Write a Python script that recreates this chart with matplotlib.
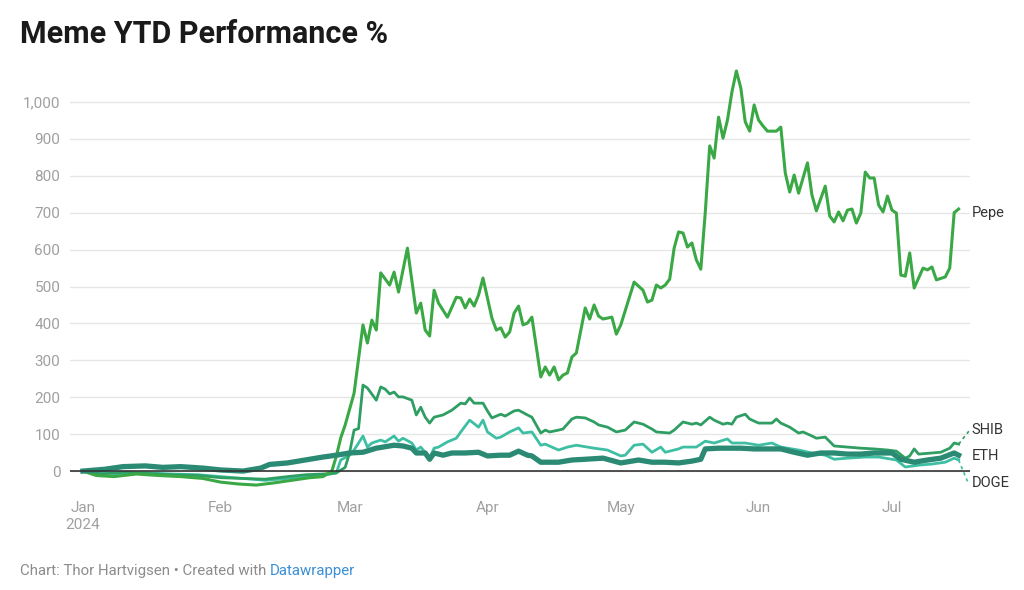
import numpy as np
import pandas as pd
import matplotlib
matplotlib.use("Agg")
import matplotlib.pyplot as plt
import matplotlib.dates as mdates

plt.rcParams['font.family'] = ['Roboto', 'DejaVu Sans']

#
# data: day offsets from 2024-01-01 and YTD performance in %
# ----------------------------------------------------------
#
pepe_days = [0, 3, 7, 12, 17, 22, 27, 31, 35, 39, 43, 47, 51, 54, 56, 57, 58, 59,
             61, 63, 64, 65, 66, 67, 69, 70, 71, 73, 75, 76, 77, 78, 79, 80, 82,
             84, 85, 86, 87, 88, 89, 90, 92, 93, 94, 95, 96, 97, 98, 99, 100, 101,
             103, 104, 105, 106, 107, 108, 109, 110, 111, 113, 114, 115, 116, 117,
             119, 120, 121, 124, 126, 127, 128, 129, 130, 131, 132, 133, 134, 135,
             136, 137, 138, 139, 140, 141, 142, 143, 144, 145, 146, 147, 148, 149,
             150, 151, 152, 153, 154, 155, 156, 157, 158, 159, 160, 161, 163, 164,
             165, 167, 168, 169, 170, 171, 172, 173, 174, 175, 176, 177, 178, 179,
             180, 181, 182, 183, 184, 185, 186, 187, 189, 190, 191, 192, 194, 195,
             196, 197]
pepe_vals = [0, -12, -15, -8, -12, -15, -20, -30, -35, -38, -32, -25, -18, -15, 0, 40, 90, 125,
             211, 396, 347, 409, 382, 537, 504, 539, 485, 604, 428, 455, 382, 366, 490, 455, 417,
             471, 469, 442, 466, 447, 477, 523, 415, 382, 388, 363, 377, 428, 447, 396, 401, 417,
             255, 282, 260, 282, 247, 260, 266, 309, 320, 442, 412, 450, 420, 412,
             417, 371, 396, 512, 490, 458, 463, 504, 496, 504, 520, 604, 648, 645,
             607, 618, 572, 547, 700, 881, 848, 959, 902, 951, 1027, 1084, 1038, 946,
             921, 992, 951, 935, 921, 921, 921, 932, 808, 756, 802, 753, 835, 748,
             705, 772, 691, 675, 702, 678, 707, 710, 672, 699, 810, 794, 794, 721,
             702, 745, 707, 699, 531, 528, 591, 496, 550, 545, 553, 518, 526, 550,
             700, 710]

shib_days = [0, 4, 9, 14, 20, 26, 31, 36, 41, 46, 50, 54, 57, 59, 60, 61, 62, 63,
             64, 66, 67, 68, 69, 70, 71, 72, 74, 75, 76, 77, 78, 79, 81, 83, 85, 86,
             87, 88, 90, 91, 92, 94, 95, 97, 98, 100, 101, 103, 104, 105, 107, 108,
             110, 111, 113, 115, 116, 118, 120, 122, 124, 126, 128, 129, 132, 133,
             135, 137, 138, 139, 141, 142, 144, 145, 146, 147, 149, 150, 152, 154,
             155, 156, 157, 159, 160, 161, 162, 164, 165, 167, 169, 172, 175, 178,
             181, 183, 185, 186, 187, 188, 191, 193, 195, 196, 197]
shib_vals = [0, -8, -3, -6, -10, -12, -18, -20, -22, -15, -10, -8, -5, 10, 50, 111, 115, 233,
             225, 192, 228, 222, 209, 214, 201, 201, 192, 152, 173, 146, 130, 146, 152, 165, 184, 182,
             198, 184, 184, 163, 144, 154, 149, 163, 165, 152, 146, 103, 111, 106, 111, 114,
             141, 146, 144, 133, 125, 119, 106, 111, 133, 127, 114, 106, 103, 111,
             133, 127, 130, 125, 146, 138, 127, 130, 127, 146, 154, 141, 130, 130,
             130, 141, 130, 119, 111, 103, 106, 95, 89, 92, 68, 65, 62, 60,
             57, 54, 35, 41, 60, 46, 49, 51, 62, 76, 73]

doge_days = [0, 4, 9, 14, 20, 26, 31, 36, 41, 46, 50, 54, 57, 58, 60, 61, 63, 64,
             65, 67, 68, 70, 71, 72, 74, 75, 76, 78, 79, 80, 82, 84, 85, 87, 89, 90,
             91, 93, 94, 96, 98, 99, 101, 103, 104, 107, 109, 111, 115, 118, 121, 122,
             124, 126, 128, 130, 131, 134, 135, 138, 140, 142, 145, 146, 149, 152,
             155, 157, 161, 164, 167, 169, 172, 176, 179, 183, 185, 188, 191, 194,
             196, 197]
doge_vals = [0, -5, -8, -5, -8, -10, -15, -20, -25, -20, -15, -12, -5, 30, 43, 57, 95, 65,
             76, 84, 79, 95, 81, 89, 76, 57, 65, 35, 62, 65, 79, 89, 106, 138, 119, 138,
             106, 89, 92, 106, 117, 103, 106, 70, 73, 57, 65, 70, 62, 57, 41, 43,
             70, 73, 51, 65, 51, 60, 65, 65, 81, 76, 87, 76, 76, 70,
             76, 65, 57, 49, 43, 32, 35, 38, 38, 30, 11, 16, 19, 24,
             35, 30]

eth_days = [0, 5, 9, 14, 18, 22, 27, 31, 36, 40, 42, 46, 50, 54, 57, 60, 63, 66,
            70, 72, 74, 75, 77, 78, 79, 81, 83, 86, 89, 91, 94, 96, 98, 100, 101,
            103, 107, 110, 113, 117, 121, 125, 128, 131, 134, 137, 139, 140, 143,
            146, 148, 151, 154, 157, 160, 163, 166, 169, 172, 175, 178, 182, 184,
            187, 190, 193, 196, 197]
eth_vals = [0, 5, 12, 14, 10, 12, 8, 3, 0, 8, 18, 22, 30, 38, 43, 49, 51, 62,
            70, 68, 62, 49, 49, 32, 49, 43, 49, 49, 51, 41, 43, 43, 54, 43, 41,
            24, 24, 30, 32, 35, 22, 30, 24, 24, 22, 27, 32, 60, 62,
            62, 62, 60, 60, 60, 51, 43, 49, 49, 46, 46, 49, 49, 32,
            24, 30, 35, 49, 43]

month_ticks = ["2024-01-01", "2024-02-01", "2024-03-01", "2024-04-01",
               "2024-05-01", "2024-06-01", "2024-07-01"]
month_labels = ["Jan\n2024", "Feb", "Mar", "Apr", "May", "Jun", "Jul"]
y_ticks = [0, 100, 200, 300, 400, 500, 600, 700, 800, 900, 1000]

start = pd.Timestamp("2024-01-01")
def to_dates(days):
    return start + pd.to_timedelta(days, unit="D")

#
# graphics
# --------
#
fig = plt.figure(figsize=(10.24, 5.90), dpi=100)
ax = fig.add_axes([0.0684, 0.1703, 0.8786, 0.7194])

c_pepe = "#3aa845"
c_shib = "#2f9e63"
c_doge = "#3ebfa3"
c_eth = "#2a8a73"

ax.plot(to_dates(doge_days), doge_vals, color=c_doge, lw=2.0, zorder=3)
ax.plot(to_dates(shib_days), shib_vals, color=c_shib, lw=2.0, zorder=4)
ax.plot(to_dates(pepe_days), pepe_vals, color=c_pepe, lw=2.2, zorder=5)
ax.plot(to_dates(eth_days), eth_vals, color=c_eth, lw=3.8, zorder=6)

ax.axhline(0, color="#333333", lw=1.2, zorder=7)

ax.set_ylim(-50, 1100)
ax.set_xlim(start - pd.Timedelta(days=2.9), start + pd.Timedelta(days=199.5))
ax.set_yticks(y_ticks)
ax.set_yticklabels([f"{v:,}" for v in y_ticks])
ax.set_xticks(pd.to_datetime(month_ticks))
ax.set_xticklabels(month_labels, ha="center", va="top", linespacing=1.3)

ax.grid(axis="y", color="#e6e6e6", lw=1.0, zorder=0)
ax.grid(axis="x", visible=False)
for s in ax.spines.values():
    s.set_visible(False)
ax.tick_params(axis="both", length=0, labelsize=11, colors="#a0a0a0")
ax.tick_params(axis="y", pad=7)
ax.tick_params(axis="x", pad=8)

# end labels
lab_kw = dict(fontsize=10.5, color="#333333", va="center", ha="left",
              transform=ax.get_yaxis_transform(), clip_on=False)
ax.text(1.002, 700, "Pepe", **lab_kw)
ax.text(1.002, 111, "SHIB", **lab_kw)
ax.text(1.002, 41, "ETH", **lab_kw)
ax.text(1.002, -33, "DOGE", **lab_kw)
ax.plot([to_dates([197])[0], start + pd.Timedelta(days=199.3)], [73, 108],
        color=c_shib, lw=1.2, ls=(0, (2, 2)), clip_on=False)
ax.plot([to_dates([197])[0], start + pd.Timedelta(days=199.0)], [30, -28],
        color=c_doge, lw=1.2, ls=(0, (2, 2)), clip_on=False)

fig.text(0.0195, 0.943, "Meme YTD Performance %", fontsize=22, fontweight="bold",
         color="#1a1a1a", va="center", ha="left")

t1 = fig.text(0.0195, 0.032, "Chart: Thor Hartvigsen \u2022 Created with ", fontsize=10.8,
              color="#8c8c8c", va="center", ha="left")
fig.canvas.draw()
bb = t1.get_window_extent()
fig.text(bb.x1 / fig.bbox.width, 0.032, "Datawrapper", fontsize=10.8,
         color="#3a8fd6", va="center", ha="left")

fig.savefig("out.png", dpi=100)
